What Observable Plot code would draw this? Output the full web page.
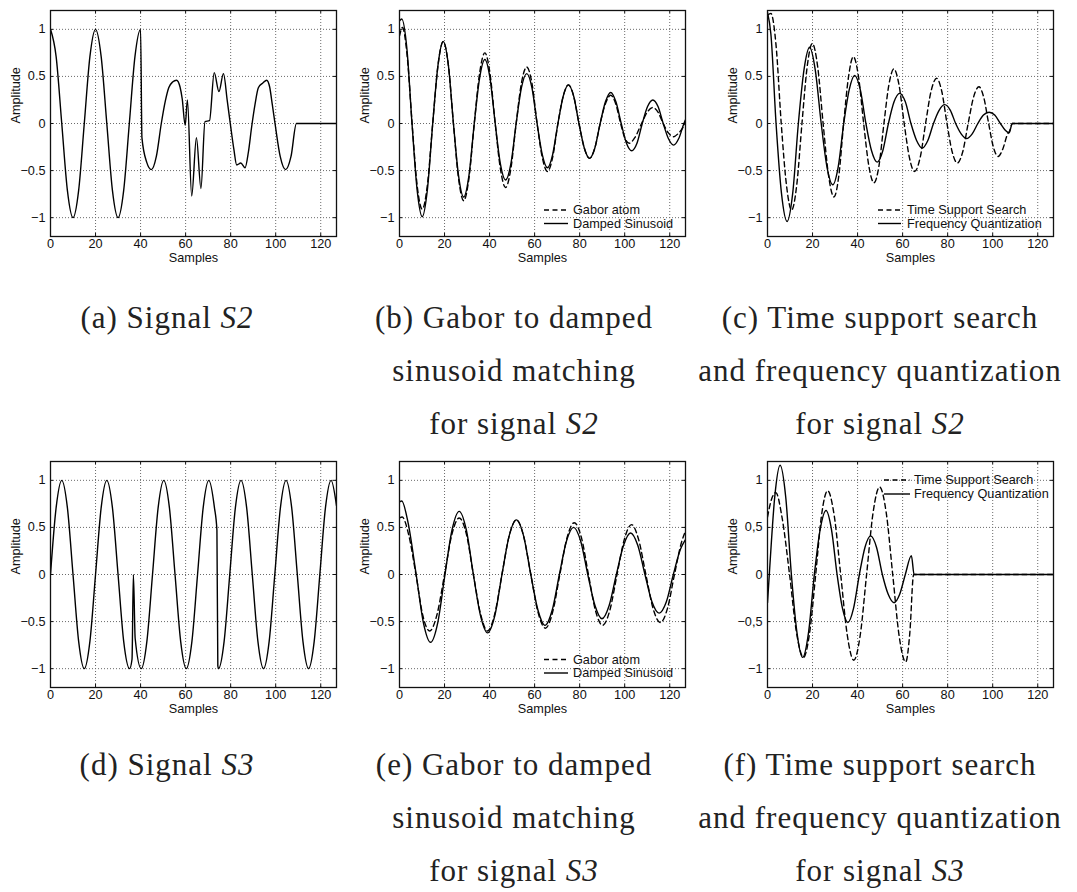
<!DOCTYPE html>
<html>
<head>
<meta charset="utf-8">
<script src="https://cdn.jsdelivr.net/npm/d3@7"></script>
<script src="https://cdn.jsdelivr.net/npm/@observablehq/plot@0.6"></script>
<style>
  html, body { margin: 0; padding: 0; background: #fff; }
  #fig { position: relative; width: 1077px; height: 892px; overflow: hidden; background: #fff; }
  .panel { position: absolute; }
  .panel svg { display: block; overflow: visible; }
  #overlay { position: absolute; left: 0; top: 0; pointer-events: none; }
</style>
</head>
<body>
<div id="fig"></div>
<script>
// ---- axis ticks ----
const sampleTicks = [0, 20, 40, 60, 80, 100, 120];
const ampTicks = [-1, -0.5, 0, 0.5, 1];
const ampText = ["−1", "−0.5", "0", "0.5", "1"];
const ampTextComma = ["−1", "−0,5", "0", "0,5", "1"];

// ---- signal S2 ----
const signalS2 = [[0,1],[2.5,0.71],[5,0],[7.5,-0.71],[10,-1],[12.5,-0.71],[15,0],[17.5,0.71],[20,1],[22.5,0.71],[25,0],[27.5,-0.71],[30,-1],[32.5,-0.71],[35,0],[37.5,0.71],[40,1],[40.6,-0.15],[42.7,-0.41],[44.8,-0.49],[47,-0.35],[49.2,0],[51,0.24],[52.5,0.38],[54.2,0.44],[56,0.46],[57.5,0.39],[58.5,0.26],[59.8,-0.02],[60.8,0.25],[62.7,-0.77],[64.8,-0.15],[66.8,-0.69],[68.6,0.02],[70.6,0.03],[72.7,0.54],[74.8,0.34],[76.8,0.53],[78.5,0.24],[80,-0.03],[81.4,-0.27],[82.7,-0.44],[84.5,-0.42],[86.4,-0.47],[87.9,-0.3],[89.3,-0.04],[90.8,0.2],[92.3,0.38],[94.3,0.43],[96,0.46],[97.3,0.39],[98.5,0.2],[99.7,0],[102,-0.35],[104.4,-0.49],[106.8,-0.35],[109.2,0],[127,0]];

const gaborS2 = [[0,0.93],[1.3,1.02],[3.4,0.72],[5.6,0],[7.8,-0.65],[10.1,-0.91],[12.4,-0.65],[14.75,0],[17.1,0.62],[19.4,0.87],[21.7,0.62],[23.95,0],[26.2,-0.58],[28.5,-0.82],[30.85,-0.58],[33.2,0],[35.55,0.53],[37.9,0.75],[40.2,0.53],[42.5,0],[44.8,-0.48],[47.1,-0.68],[49.45,-0.48],[51.8,0],[54.15,0.43],[56.5,0.6],[58.8,0.43],[61.1,0],[63.4,-0.36],[65.7,-0.51],[68,-0.36],[70.35,0],[72.7,0.29],[75,0.41],[77.35,0.29],[79.7,0],[82.05,-0.26],[84.4,-0.37],[86.75,-0.26],[89.1,0],[91.45,0.21],[93.8,0.3],[96,0.21],[98.2,0],[100,-0.15],[102,-0.21],[104.5,-0.15],[107.5,0],[110,0.12],[112.5,0.17],[114.8,0.12],[117.1,0],[119.4,-0.1],[121.7,-0.14],[124,-0.1],[127,0]];

const dampedS2 = [[0,1.09],[1,1.11],[3.3,0.79],[5.55,0],[7.8,-0.7],[10.1,-0.99],[12.4,-0.7],[14.75,0],[17.1,0.62],[19.4,0.87],[21.7,0.62],[23.95,0],[26.2,-0.55],[28.5,-0.78],[30.85,-0.55],[33.2,0],[35.55,0.48],[37.9,0.68],[40.2,0.48],[42.5,0],[44.8,-0.43],[47.1,-0.6],[49.45,-0.43],[51.8,0],[54.15,0.38],[56.5,0.53],[58.8,0.38],[61.1,0],[63.4,-0.33],[65.7,-0.47],[68,-0.33],[70.35,0],[72.7,0.29],[75,0.41],[77.35,0.29],[79.7,0],[82.05,-0.26],[84.4,-0.37],[86.75,-0.26],[89.1,0],[91.45,0.23],[93.8,0.33],[96.1,0.23],[98.45,0],[100.8,-0.21],[103.1,-0.29],[105.45,-0.21],[107.8,0],[110.15,0.18],[112.5,0.25],[114.8,0.18],[117.1,0],[119.4,-0.16],[121.7,-0.23],[124,-0.16],[126.3,0],[127,0.04]];

const supportS2 = [[0,1.15],[1.5,1.17],[3.8,0.83],[6.1,0],[8.4,-0.65],[10.7,-0.92],[13,-0.65],[15.3,0],[17.6,0.6],[19.9,0.85],[22.3,0.6],[24.7,0],[27.1,-0.55],[29.5,-0.78],[31.7,-0.55],[33.8,0],[36,0.5],[38.1,0.71],[40.4,0.5],[42.7,0],[45,-0.45],[47.3,-0.63],[49.5,-0.45],[51.7,0],[53.9,0.41],[56.1,0.58],[58.4,0.41],[60.7,0],[63,-0.36],[65.3,-0.51],[67.8,-0.36],[70.2,0],[72.6,0.34],[75.1,0.48],[77.4,0.34],[79.7,0],[82,-0.3],[84.3,-0.42],[86.7,-0.3],[89.1,0],[91.5,0.28],[93.9,0.39],[96,0.28],[98.2,0],[100.3,-0.25],[102.4,-0.35],[104.5,-0.27],[106.5,-0.12],[107.5,-0.08],[108.7,0],[127,0]];

const quantS2 = [[0,1.18],[1.5,0.95],[3.8,0],[6.2,-0.74],[8.7,-1.04],[11.2,-0.74],[13.7,0],[16.2,0.57],[18.7,0.81],[21.2,0.57],[23.85,0],[26.4,-0.46],[29,-0.65],[31.4,-0.46],[33.85,0],[36.3,0.36],[38.7,0.51],[41.2,0.36],[43.7,0],[46.2,-0.29],[48.7,-0.41],[51.2,-0.29],[53.7,0],[56.2,0.23],[58.7,0.32],[61.2,0.23],[63.7,0],[66.2,-0.18],[68.7,-0.26],[71.2,-0.18],[73.7,0],[76.2,0.14],[78.7,0.2],[81.2,0.14],[83.55,0],[86,-0.11],[88.4,-0.16],[90.9,-0.11],[93.4,0],[95.9,0.09],[98.4,0.12],[100.9,0.09],[103.4,0],[105.5,-0.07],[107.3,-0.1],[108.7,0],[127,0]];

// ---- signal S3 ----
const signalS3 = [[0,0],[2.5,0.71],[5,1],[7.5,0.71],[10,0],[12.5,-0.71],[15,-1],[17.5,-0.71],[20,0],[22.5,0.71],[25,1],[27.5,0.71],[30,0],[32.5,-0.71],[35.1,-1],[36.2,-0.9],[36.8,0],[37.6,-0.68],[40.3,-1],[42.8,-0.71],[45.3,0],[47.8,0.71],[50.3,1],[52.8,0.71],[55.3,0],[57.8,-0.71],[60.3,-1],[62.8,-0.71],[65.3,0],[67.8,0.71],[70.3,1],[72.8,0.71],[73.9,0.47],[74.3,-0.97],[74.6,-1],[77.1,-0.71],[79.6,0],[82.1,0.71],[84.6,1],[87.1,0.71],[89.6,0],[92.1,-0.71],[94.6,-1],[97.1,-0.71],[99.6,0],[102.1,0.71],[104.6,1],[107.1,0.71],[109.6,0],[112.1,-0.71],[114.6,-1],[117.1,-0.71],[119.6,0],[122.1,0.71],[124.6,1],[127,0.73]];

const gaborS3 = [[0,0.6],[1.2,0.61],[4,0.43],[7.3,0],[10.3,-0.43],[13.4,-0.6],[16.6,-0.43],[20,0],[23.3,0.43],[26.5,0.6],[29.7,0.43],[32.8,0],[36,-0.42],[39.1,-0.6],[42.3,-0.42],[45.5,0],[48.7,0.41],[51.9,0.58],[55.1,0.41],[58.3,0],[61.5,-0.4],[64.8,-0.57],[68,-0.4],[71.2,0],[74.4,0.39],[77.6,0.55],[80.8,0.39],[83.9,0],[87,-0.38],[90.2,-0.54],[93.4,-0.38],[96.6,0],[99.8,0.37],[103,0.53],[106.2,0.37],[109.4,0],[112.6,-0.36],[115.8,-0.51],[119,-0.36],[122.1,0],[125.2,0.34],[127,0.46]];

const dampedS3 = [[0,0.77],[1,0.78],[3.8,0.55],[7.4,0],[10.6,-0.51],[13.8,-0.72],[17,-0.51],[20.2,0],[23.3,0.47],[26.5,0.67],[29.7,0.47],[32.8,0],[36,-0.44],[39.1,-0.62],[42.3,-0.44],[45.5,0],[48.7,0.41],[51.9,0.58],[55.1,0.41],[58.3,0],[61.5,-0.38],[64.6,-0.54],[67.8,-0.38],[71,0],[74.1,0.35],[77.3,0.5],[80.5,0.35],[83.6,0],[86.8,-0.33],[89.9,-0.47],[93.1,-0.33],[96.3,0],[99.5,0.31],[102.6,0.44],[105.8,0.31],[109,0],[112.1,-0.29],[115.3,-0.41],[118.5,-0.29],[121.6,0],[124.8,0.27],[127,0.37]];

const supportS3 = [[0,0.61],[1.8,0.8],[3.7,0.87],[6.5,0.6],[9.8,0],[12.9,-0.62],[16,-0.88],[18.7,-0.62],[21.4,0],[24,0.63],[26.7,0.89],[29.6,0.63],[32.5,0],[35.4,-0.64],[38.3,-0.91],[41.2,-0.64],[44,0],[46.9,0.66],[49.8,0.93],[52.7,0.66],[55.6,0],[58.5,-0.66],[61.4,-0.93],[63.2,-0.62],[64.9,0],[127,0]];

const quantS3 = [[0,-0.3],[0.8,0],[3.2,0.82],[5.6,1.16],[8.1,0.82],[10.6,0],[13.1,-0.62],[15.6,-0.88],[18.2,-0.62],[20.8,0],[23.4,0.48],[26,0.68],[28.4,0.48],[30.9,0],[33.3,-0.36],[35.7,-0.51],[38.2,-0.36],[40.8,0],[43.3,0.29],[45.8,0.41],[48.4,0.29],[51,0],[53.6,-0.21],[56.2,-0.3],[58.7,-0.21],[61.2,0],[63.9,0.2],[65.1,0],[127,0]];

// ---- legend and caption texts ----
const gaborNames = ["Gabor atom", "Damped Sinusoid"];
const searchNames = ["Time Support Search", "Frequency Quantization"];

// ---- layout ----
const W = 341, H = 270, ML = 50, MR = 5, MT = 10, MB = 34;
const innerW = W - ML - MR, innerH = H - MT - MB;

const panels = [
  {left: 0,     top: 0,   series: [{data: signalS2}], tickText: ampText},
  {left: 348.5, top: 0,   series: [{data: gaborS2, dashed: true}, {data: dampedS2}], tickText: ampText},
  {left: 717,   top: 0,   series: [{data: supportS2, dashed: true}, {data: quantS2}], tickText: ampText},
  {left: 0,     top: 451, series: [{data: signalS3}], tickText: ampText},
  {left: 348.5, top: 451, series: [{data: gaborS3, dashed: true}, {data: dampedS3}], tickText: ampText},
  {left: 717,   top: 451, series: [{data: supportS3, dashed: true}, {data: quantS3}], tickText: ampTextComma}
];

const gridStyle = {stroke: "#6a6a6a", strokeOpacity: 1, strokeWidth: 1, strokeDasharray: "1,2"};
const tickStyle = {stroke: "#111", strokeWidth: 1};

function drawPanel(p) {
  const yText = new Map(ampTicks.map((v, i) => [v, p.tickText[i]]));
  const lines = p.series.map(s => Plot.line(s.data, {
    x: d => d[0], y: d => d[1], curve: "monotone-x",
    stroke: "black", strokeWidth: 1.4, clip: true,
    ...(s.dashed ? {strokeDasharray: "5,3.5"} : {})
  }));
  return Plot.plot({
    width: W, height: H,
    marginLeft: ML, marginRight: MR, marginTop: MT, marginBottom: MB,
    x: {domain: [0, 127]},
    y: {domain: [-1.2, 1.2]},
    style: {fontFamily: "'Liberation Sans', Arial, sans-serif", fontSize: "12.7px", color: "#111", background: "transparent", overflow: "visible"},
    marks: [
      Plot.gridX(sampleTicks.slice(1), gridStyle),
      Plot.gridY(ampTicks, gridStyle),
      Plot.tickX(sampleTicks, {x: d => d, insetBottom: innerH - 3, ...tickStyle}),
      Plot.tickX(sampleTicks, {x: d => d, insetTop: innerH - 3, ...tickStyle}),
      Plot.tickY(ampTicks, {y: d => d, insetRight: innerW - 3, ...tickStyle}),
      Plot.tickY(ampTicks, {y: d => d, insetLeft: innerW - 3, ...tickStyle}),
      Plot.axisX(sampleTicks, {anchor: "bottom", tickSize: 0, tickPadding: 2.5, label: null, fill: "#111"}),
      Plot.axisY(ampTicks, {anchor: "left", tickSize: 0, tickPadding: 5, label: null, tickFormat: d => yText.get(d), fill: "#111"}),
      ...lines,
      Plot.frame({stroke: "#111", strokeWidth: 1.3}),
      Plot.text(["Samples"], {text: d => d, frameAnchor: "bottom", dy: 25, fill: "#111"}),
      Plot.text(["Amplitude"], {text: d => d, frameAnchor: "left", rotate: -90, dx: -35, fill: "#111"})
    ]
  });
}

const fig = document.getElementById("fig");
for (const p of panels) {
  const div = document.createElement("div");
  div.className = "panel";
  div.style.left = p.left + "px";
  div.style.top = p.top + "px";
  div.appendChild(drawPanel(p));
  fig.appendChild(div);
}

// ---- legends and sub-figure captions ----
const overlay = d3.select(fig).append("svg")
  .attr("id", "overlay").attr("width", 1077).attr("height", 892);

const legends = [
  {names: gaborNames,  x1: 544, x2: 568, tx: 573, y: [210, 223.5]},
  {names: searchNames, x1: 878, x2: 901, tx: 907, y: [210, 223.5]},
  {names: gaborNames,  x1: 544, x2: 568, tx: 573, y: [659.5, 673]},
  {names: searchNames, x1: 884, x2: 910, tx: 914, y: [480, 494]}
];
for (const lg of legends) {
  lg.names.forEach((name, i) => {
    overlay.append("line")
      .attr("x1", lg.x1).attr("x2", lg.x2).attr("y1", lg.y[i]).attr("y2", lg.y[i])
      .attr("stroke", "black").attr("stroke-width", 1.4)
      .attr("stroke-dasharray", i === 0 ? "5,3.5" : null);
    overlay.append("text")
      .attr("x", lg.tx).attr("y", lg.y[i]).attr("dy", "0.35em")
      .attr("font-family", "'Liberation Sans', Arial, sans-serif")
      .attr("font-size", 12.7).attr("fill", "#111")
      .text(name);
  });
}

const captions = [
  {cx: 167, y: 328, lines: [["(a) Signal ", "S2"]]},
  {cx: 514, y: 328, lines: [["(b) Gabor to damped"], ["sinusoid matching"], ["for signal ", "S2"]]},
  {cx: 880, y: 328, lines: [["(c) Time support search"], ["and frequency quantization"], ["for signal ", "S2"]]},
  {cx: 167, y: 775, lines: [["(d) Signal ", "S3"]]},
  {cx: 514, y: 775, lines: [["(e) Gabor to damped"], ["sinusoid matching"], ["for signal ", "S3"]]},
  {cx: 880, y: 775, lines: [["(f) Time support search"], ["and frequency quantization"], ["for signal ", "S3"]]}
];
for (const c of captions) {
  c.lines.forEach((parts, i) => {
    const t = overlay.append("text")
      .attr("x", c.cx).attr("y", c.y + i * 53)
      .attr("text-anchor", "middle")
      .attr("font-family", "'Liberation Serif', 'Times New Roman', serif")
      .attr("font-size", 31).attr("letter-spacing", 1).attr("fill", "#222");
    t.append("tspan").text(parts[0]);
    if (parts[1]) t.append("tspan").attr("font-style", "italic").text(parts[1]);
  });
}
</script>
</body>
</html>
